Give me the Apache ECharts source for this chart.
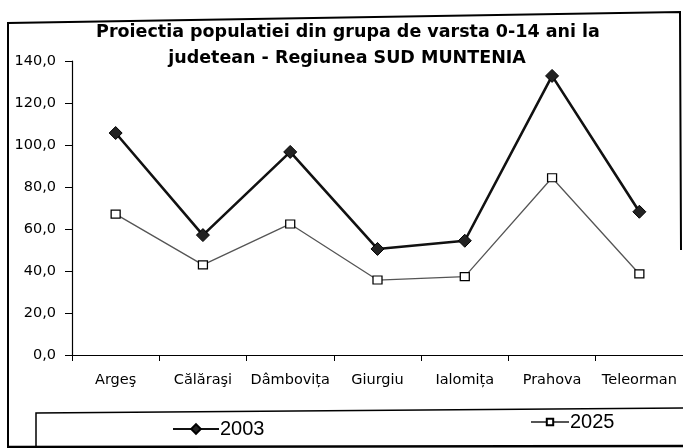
<!DOCTYPE html>
<html>
<head>
<meta charset="utf-8">
<script src="https://cdn.jsdelivr.net/npm/echarts@6/dist/echarts.min.js"></script>
<style>
html,body{margin:0;padding:0;background:#fff;}
#c{width:683px;height:448px;}
</style>
</head>
<body>
<div id="c"></div>
<script>
var categories = ['Argeş', 'Călăraşi', 'Dâmbovița', 'Giurgiu', 'Ialomița', 'Prahova', 'Teleorman'];
var values2003 = [105.7, 57.1, 96.7, 50.5, 54.4, 132.9, 68.2];
var values2025 = [67.1, 42.9, 62.4, 35.7, 37.3, 84.4, 38.6];
var yTickLabels = ['0,0', '20,0', '40,0', '60,0', '80,0', '100,0', '120,0', '140,0'];
var titleLines = ['Proiectia populatiei din grupa de varsta 0-14 ani la', 'judetean - Regiunea SUD MUNTENIA'];
var seriesNames = ['2003', '2025'];

var chart = echarts.init(document.getElementById('c'), null, {renderer: 'canvas'});
var lblFont = 'DejaVu Sans';
chart.setOption({
  animation: false,
  backgroundColor: '#ffffff',
  title: [
    {text: titleLines[0], left: 343, top: 18, textAlign: 'center',
     textStyle: {fontFamily: lblFont, fontWeight: 'bold', fontSize: 17.5, color: '#000'}},
    {text: titleLines[1], left: 342, top: 44, textAlign: 'center',
     textStyle: {fontFamily: lblFont, fontWeight: 'bold', fontSize: 17.5, color: '#000'}}
  ],
  legend: [
    {data: [seriesNames[0]], left: 167, top: 414, itemWidth: 46, itemHeight: 12, itemGap: 4,
     textStyle: {fontFamily: 'Liberation Sans', fontSize: 20, color: '#000', padding: [0,0,0,-4]}},
    {data: [seriesNames[1]], left: 525, top: 407, itemWidth: 38, itemHeight: 8, itemGap: 4,
     textStyle: {fontFamily: 'Liberation Sans', fontSize: 20, color: '#000', padding: [0,0,0,-4]}}
  ],
  grid: {left: 72, right: -4, top: 61, bottom: 93, containLabel: false},
  xAxis: {
    type: 'category',
    data: categories,
    boundaryGap: true,
    axisLine: {lineStyle: {color: '#000', width: 1.2}},
    axisTick: {show: true, length: 6, lineStyle: {color: '#000'}},
    axisLabel: {fontFamily: lblFont, fontSize: 14.5, color: '#000', margin: 18, interval: 0}
  },
  yAxis: {
    type: 'value',
    min: 0, max: 140, interval: 20,
    axisLine: {show: true, lineStyle: {color: '#000', width: 1.2}},
    axisTick: {show: true, length: 7, lineStyle: {color: '#000'}},
    splitLine: {show: false},
    axisLabel: {fontFamily: lblFont, fontSize: 14.5, color: '#000', margin: 16,
      formatter: function (v) { return yTickLabels[Math.round(v / 20)]; }}
  },
  series: [
    {name: seriesNames[0], type: 'line', data: values2003,
     symbol: 'diamond', symbolSize: 13,
     lineStyle: {color: '#111', width: 2.6},
     itemStyle: {color: '#222', borderColor: '#000', borderWidth: 1}},
    {name: seriesNames[1], type: 'line', data: values2025,
     symbol: 'rect', symbolSize: [9, 8],
     lineStyle: {color: '#555', width: 1.3},
     itemStyle: {color: '#fff', borderColor: '#000', borderWidth: 1.2}}
  ],
  graphic: [
    {type: 'polyline', silent: true, z: 100,
     shape: {points: [[8, 450], [8, 23], [680, 12], [681, 250]]},
     style: {stroke: '#000', lineWidth: 2, fill: null}},
    {type: 'polyline', silent: true, z: 100,
     shape: {points: [[690, 408], [36, 413], [36, 447]]},
     style: {stroke: '#000', lineWidth: 1.5, fill: null}},
    {type: 'line', silent: true, z: 100,
     shape: {x1: 8, y1: 447, x2: 683, y2: 446},
     style: {stroke: '#000', lineWidth: 2.5}}
  ]
});
</script>
</body>
</html>
